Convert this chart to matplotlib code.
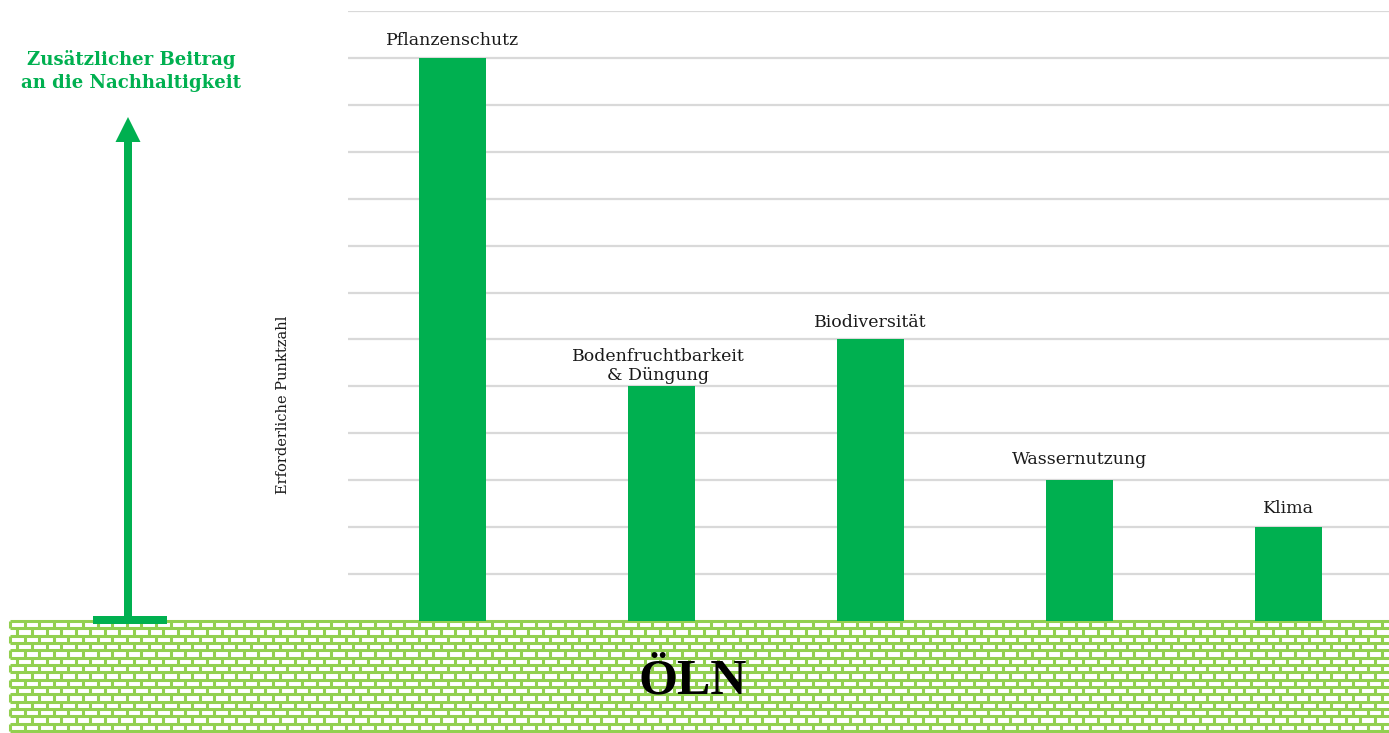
import matplotlib
matplotlib.use("Agg")
import matplotlib.pyplot as plt
from matplotlib.collections import LineCollection
from matplotlib.patches import Rectangle, Polygon
import numpy as np

# ---- data ----
categories = ["Pflanzenschutz", "Bodenfruchtbarkeit\n& Düngung", "Biodiversität",
              "Wassernutzung", "Klima"]
points = [12, 5, 6, 3, 2]
y_max = 13
y_label = "Erforderliche Punktzahl"
arrow_title = "Zusätzlicher Beitrag\nan die Nachhaltigkeit"
base_label = "ÖLN"

# ---- style ----
W, H = 1389, 733
DPI = 100
BAR_COLOR = "#00B050"
BRICK_COLOR = "#92D050"
GRID_COLOR = "#D9D9D9"
SERIF = ["DejaVu Serif", "Liberation Serif"]
SERIF_T = ["Liberation Serif", "DejaVu Serif"]
label_offsets_px = [13, 6, 12, 16, 14]

fig = plt.figure(figsize=(W / DPI, H / DPI), dpi=DPI)

# overlay axes in pixel coordinates (for decorations)
ov = fig.add_axes([0, 0, 1, 1], zorder=0)
ov.set_xlim(0, W)
ov.set_ylim(H, 0)
ov.axis("off")

# main chart axes
ax_left, ax_right, ax_top, ax_bottom = 348, 1393, 11, 621
ax = fig.add_axes([ax_left / W, 1 - ax_bottom / H, (ax_right - ax_left) / W,
                   (ax_bottom - ax_top) / H], zorder=2)
ax.patch.set_alpha(0)
x = np.arange(len(categories))
ax.bar(x, points, width=0.316, color=BAR_COLOR, zorder=3)
ax.set_xlim(-0.5, len(categories) - 0.5)
ax.set_ylim(0, y_max)
ax.set_yticks(np.arange(1, y_max + 1))
ax.yaxis.grid(True, color=GRID_COLOR, linewidth=1.6)
ax.set_axisbelow(True)
ax.tick_params(left=False, bottom=False, labelleft=False, labelbottom=False)
for s in ax.spines.values():
    s.set_visible(False)

px = 72.0 / DPI
for xi, val, lab, off in zip(x, points, categories, label_offsets_px):
    ax.annotate(lab, (xi, val), xytext=(-3 * px if "\n" in lab else 0, off * px),
                textcoords="offset points", ha="center", va="baseline",
                fontsize=12.5, family=SERIF, color="#1a1a1a",
                linespacing=1.2, zorder=4)

fig.text(283 / W, 1 - 405 / H, y_label, rotation=90, ha="center", va="center",
         fontsize=10.5, family=SERIF, color="#1a1a1a")

# ---- brick pattern (ÖLN base) ----
bx0, bx1, by0, by1 = 10, W, 621, 733
row_h = 7.33
brick_w = 14.6
segs = []
n_rows = int(np.ceil((by1 - by0) / row_h))
for r in range(n_rows + 1):
    yy = by0 + r * row_h
    if yy <= by1:
        segs.append([(bx0, yy), (bx1, yy)])
for r in range(n_rows):
    y_top = by0 + r * row_h
    y_bot = min(y_top + row_h, by1)
    offs = 0 if r % 2 == 0 else brick_w / 2
    xx = bx0 + offs
    while xx <= bx1:
        segs.append([(xx, y_top), (xx, y_bot)])
        xx += brick_w
ov.add_collection(LineCollection(segs, colors=BRICK_COLOR, linewidths=2.2, zorder=1))

ov.text(693, 682, base_label, ha="center", va="center", fontsize=36,
        fontweight="bold", family=SERIF_T, color="black", zorder=5)

# ---- arrow ----
ov.add_patch(Rectangle((93, 616), 74, 8, color=BAR_COLOR, zorder=3, lw=0))
ov.add_patch(Rectangle((124, 138), 8, 480, color=BAR_COLOR, zorder=3, lw=0))
ov.add_patch(Polygon([(115.5, 142), (140.5, 142), (128, 117)], closed=True,
                     color=BAR_COLOR, zorder=3, lw=0))
ov.text(131, 71, arrow_title, ha="center", va="center", fontsize=13.1,
        fontweight="bold", family=SERIF, color=BAR_COLOR, linespacing=1.35, zorder=5)

fig.savefig("out.png", dpi=DPI, facecolor="white")
